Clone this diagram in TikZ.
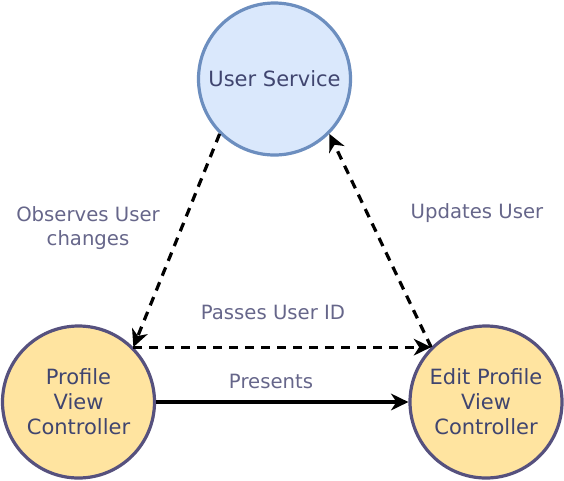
\documentclass[tikz,border=0pt]{standalone}
\usepackage{fontspec}
\setmainfont{DejaVu Sans}
\usepackage{xcolor}
\usetikzlibrary{arrows.meta}
\definecolor{svcfill}{HTML}{DAE8FC}
\definecolor{svcline}{HTML}{6C8EBF}
\definecolor{ctlfill}{HTML}{FFE4A0}
\definecolor{ctlline}{HTML}{56517E}
\definecolor{ctltext}{HTML}{40456F}
\definecolor{lbltext}{HTML}{66668A}
\tikzset{
  blob/.style = {circle, line width=2.4pt, minimum size=114pt, inner sep=0pt,
    align=center, text=ctltext, font=\fontsize{15.75pt}{18.75pt}\selectfont},
  service/.style = {blob, draw=svcline, fill=svcfill},
  ctrl/.style = {blob, draw=ctlline, fill=ctlfill},
  lbl/.style = {align=center, text=lbltext, font=\fontsize{14.75pt}{18pt}\selectfont},
  link/.style = {line width=2.4pt, -{Stealth[length=13pt,width=12.5pt,inset=4pt]}},
  dlink/.style = {link, dash pattern=on 6.75pt off 5.25pt}
}
\begin{document}
\begin{tikzpicture}[x=0.75pt,y=-0.75pt]
  \useasboundingbox (0,0) rectangle (564,480);
  % circles
  \node[service] (us) at (274.5,79) {User Service};
  \node[ctrl] (pvc) at (78.5,402) {Profile\\View\\Controller};
  \node[ctrl] (epvc) at (486,402) {Edit Profile\\View\\Controller};
  % connectors
  \draw[dlink] (us.225) -- (pvc.45);
  \draw[dlink] (epvc.135) -- (us.315);
  \draw[dlink] (pvc.45) -- (epvc.135);
  \draw[link] (pvc.east) -- (epvc.west);
  % labels
  \node[lbl] (obs) at (88,228) {Observes User\\changes};
  \node[lbl] (upd) at (477,213) {Updates User};
  \node[lbl] (pass) at (273,312) {Passes User ID};
  \node[lbl] (pres) at (271,381) {Presents};
\end{tikzpicture}
\end{document}
